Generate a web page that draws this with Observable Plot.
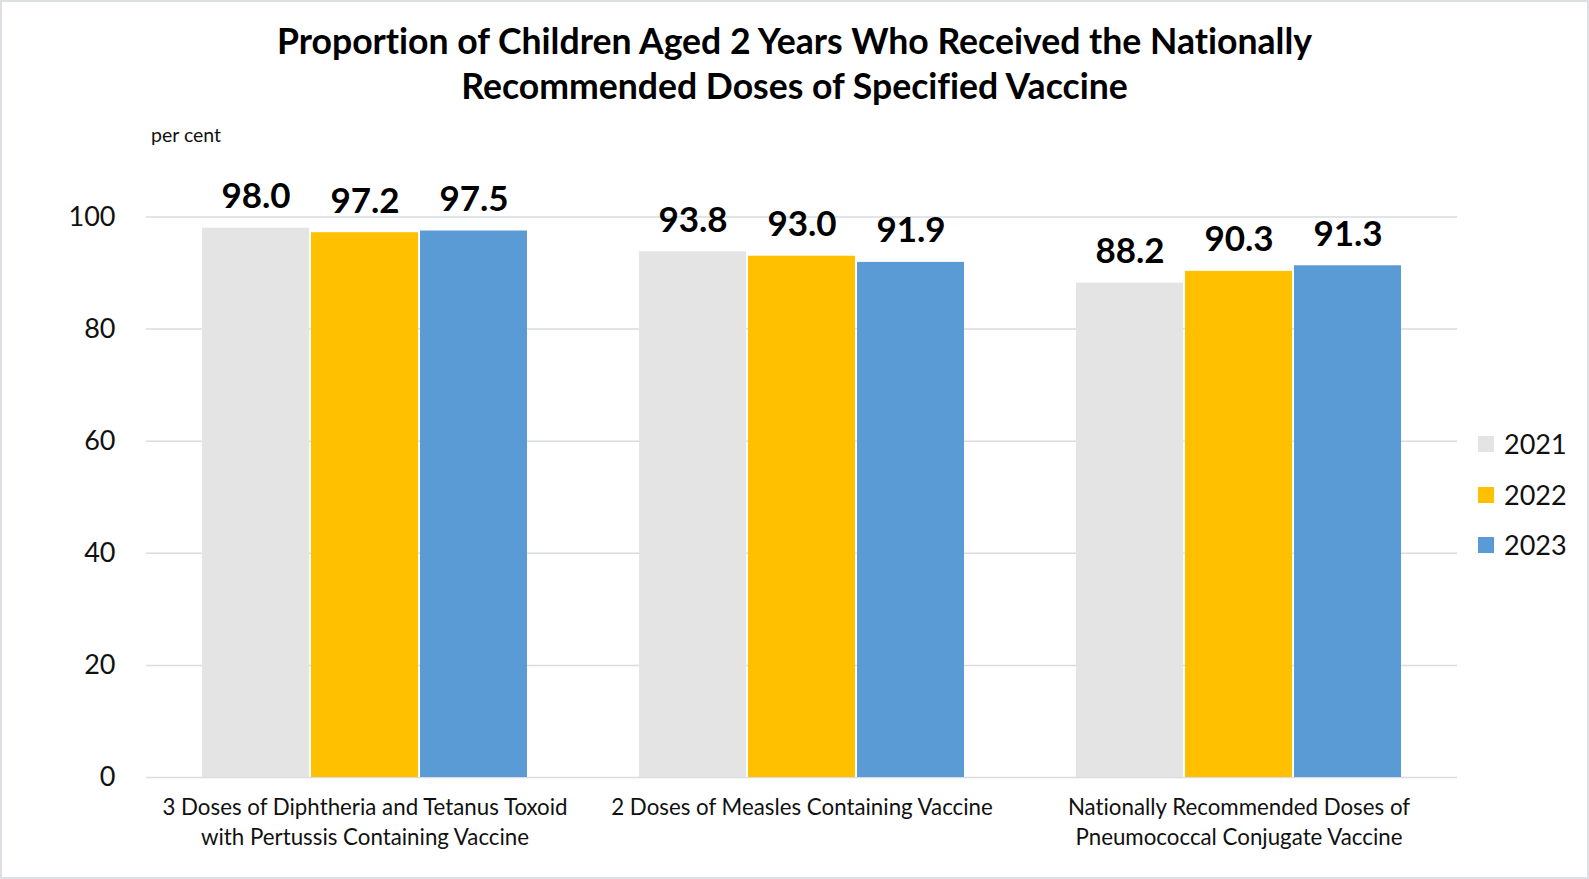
<!DOCTYPE html>
<html>
<head>
<meta charset="utf-8">
<script src="https://cdn.jsdelivr.net/npm/d3@7"></script>
<script src="https://cdn.jsdelivr.net/npm/@observablehq/plot@0.6"></script>
<style>
  html, body { margin: 0; padding: 0; overflow: hidden; background: #fff; }
  #chart { position: relative; width: 1589px; height: 879px; font-family: Lato, "Open Sans", sans-serif; color: #111; font-variant-ligatures: none; }
  #chart svg text { font-variant-ligatures: none; }
  #frame { position: absolute; left: 0; top: 0; width: 1589px; height: 879px; box-sizing: border-box; border: 2px solid #dcdfe4; pointer-events: none; }
  #title { position: absolute; left: 0; top: 19px; width: 1589px; text-align: center; font-weight: 700; font-size: 35.6px; line-height: 44.5px; color: #000; }
  #unit { position: absolute; left: 151px; top: 123px; font-size: 19.5px; color: #111; }
  #legend { position: absolute; left: 1478px; top: 0; }
  .sw { position: absolute; width: 16px; height: 16px; }
  .lt { position: absolute; left: 26px; font-size: 27px; line-height: 30px; color: #111; white-space: nowrap; }
  #plot { position: absolute; left: 0; top: 0; }
</style>
</head>
<body>
<div id="chart">
  <div id="plot"></div>
  <div id="title">Proportion of Children Aged 2 Years Who Received the Nationally<br>Recommended Doses of Specified Vaccine</div>
  <div id="unit">per cent</div>
  <div id="legend"></div>
  <div id="frame"></div>
</div>
<script>
const categories = [
  "3 Doses of Diphtheria and Tetanus Toxoid\nwith Pertussis Containing Vaccine",
  "2 Doses of Measles Containing Vaccine",
  "Nationally Recommended Doses of\nPneumococcal Conjugate Vaccine"
];
const years = ["2021", "2022", "2023"];
const values2021 = [98.0, 93.8, 88.2];
const values2022 = [97.2, 93.0, 90.3];
const values2023 = [97.5, 91.9, 91.3];
const yTicks = [0, 20, 40, 60, 80, 100];
const colors = ["#e4e4e4", "#ffc000", "#5b9bd5"];

const series = [values2021, values2022, values2023];
const data = [];
categories.forEach((c, i) => {
  years.forEach((y, j) => data.push({category: c, year: y, value: series[j][i]}));
});

const plot = Plot.plot({
  width: 1589,
  height: 879,
  marginLeft: 145,
  marginRight: 132,
  marginTop: 216.5,
  marginBottom: 102,
  style: {fontFamily: "Lato, 'Open Sans', sans-serif", color: "#111", background: "transparent"},
  fx: {domain: categories, padding: 0},
  x: {domain: years, paddingInner: 0, paddingOuter: 0.5, axis: null},
  y: {domain: [0, 100]},
  color: {domain: years, range: colors},
  marks: [
    Plot.gridY(yTicks, {stroke: "#d9dce1", strokeOpacity: 1, strokeWidth: 1.5}),
    Plot.barY(data, {fx: "category", x: "year", y: "value", fill: "year", insetLeft: 1, insetRight: 1}),
    Plot.text(data, {fx: "category", x: "year", y: "value", text: d => d.value.toFixed(1),
      fontWeight: 700, fontSize: 35, fill: "#000", lineAnchor: "bottom", dy: -20}),
    Plot.axisY(yTicks, {tickSize: 0, tickPadding: 31, fontSize: 27, label: null, fill: "#111"}),
    Plot.axisFx({anchor: "bottom", tickSize: 0, tickPadding: 17, fontSize: 22.3, lineHeight: 1.32, label: null, fill: "#111"})
  ]
});
document.getElementById("plot").appendChild(plot);

const legend = document.getElementById("legend");
const centers = [444, 494.5, 545];
years.forEach((y, i) => {
  const sw = document.createElement("div");
  sw.className = "sw";
  sw.style.background = colors[i];
  sw.style.top = (centers[i] - 8) + "px";
  legend.appendChild(sw);
  const t = document.createElement("div");
  t.className = "lt";
  t.textContent = y;
  t.style.top = (centers[i] - 15) + "px";
  legend.appendChild(t);
});
</script>
</body>
</html>
